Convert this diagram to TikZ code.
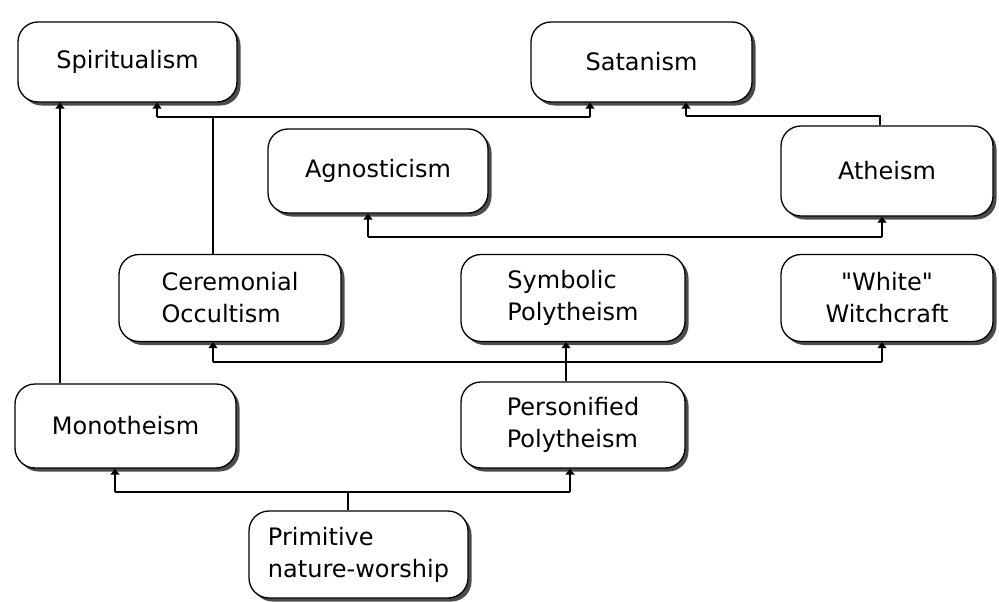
\documentclass[tikz,border=0pt]{standalone}
\usepackage{fontspec}
\newfontfamily\dvs{DejaVu Sans}
\usetikzlibrary{arrows.meta,shadows}
\begin{document}
\begin{tikzpicture}[x=1pt,y=-1pt,
  box/.style={draw=black, line width=1.3pt, fill=white, rounded corners=20pt,
    font=\dvs\fontsize{24}{32}\selectfont, inner sep=0pt,
    drop shadow={shadow xshift=3.5pt, shadow yshift=-3.5pt, fill=black!70, opacity=1}},
  conn/.style={line width=1.4pt},
  arr/.style={conn, -{Triangle[width=9pt,length=6pt]}}]
\useasboundingbox (0,0) rectangle (999,602);
\fill[white] (0,0) rectangle (999,602);
% boxes
\node[box, minimum width=219pt, minimum height=80pt] (spir) at (127.5,62) {Spiritualism};
\node[box, minimum width=221pt, minimum height=80pt] (satan) at (641.5,62) {Satanism};
\node[box, minimum width=220pt, minimum height=84pt] (agn) at (378,171) {Agnosticism};
\node[box, minimum width=212pt, minimum height=90pt] (ath) at (887,171) {Atheism};
\node[box, minimum width=222pt, minimum height=87pt, align=left] (cer) at (230,298) {Ceremonial\\Occultism};
\node[box, minimum width=224pt, minimum height=87pt, align=left] (sym) at (573,298) {Symbolic\\Polytheism};
\node[box, minimum width=212pt, minimum height=87pt, align=center] (white) at (887,298) {"White"\\Witchcraft};
\node[box, minimum width=221pt, minimum height=84pt] (mono) at (125.5,426) {Monotheism};
\node[box, minimum width=224pt, minimum height=86pt, align=left] (pers) at (573,425) {Personified\\Polytheism};
\node[box, minimum width=219pt, minimum height=87pt, align=left] (prim) at (358.5,554.5) {Primitive\\nature-worship};
% junction coordinates
\coordinate (jm) at (60,0);
\coordinate (ja) at (157,117);
\coordinate (jc) at (213,117);
\coordinate (jb) at (590,117);
\coordinate (jt) at (880,116);
\coordinate (js) at (686,116);
\coordinate (jg) at (368,237);
\coordinate (jh) at (882,237);
\coordinate (jk) at (213,362);
\coordinate (jw) at (882,362);
\coordinate (jp) at (566,0);
\coordinate (jn) at (115,492);
\coordinate (jq) at (348,492);
\coordinate (jr) at (570,492);
% connectors
\draw[arr] (mono.north -| jm) -- (spir.south -| jm);
\draw[conn] (cer.north -| jc) -- (jc);
\draw[conn] (ja) -- (jb);
\draw[arr] (ja) -- (spir.south -| ja);
\draw[arr] (jb) -- (satan.south -| jb);
\draw[conn] (ath.north -| jt) -- (jt) -- (js);
\draw[arr] (js) -- (satan.south -| js);
\draw[conn] (jg) -- (jh);
\draw[arr] (jg) -- (agn.south -| jg);
\draw[arr] (jh) -- (ath.south -| jh);
\draw[conn] (jk) -- (jw);
\draw[arr] (jk) -- (cer.south -| jk);
\draw[arr] (jw) -- (white.south -| jw);
\draw[arr] (pers.north -| jp) -- (sym.south -| jp);
\draw[conn] (jn) -- (jr);
\draw[conn] (prim.north -| jq) -- (jq);
\draw[arr] (jn) -- (mono.south -| jn);
\draw[arr] (jr) -- (pers.south -| jr);
\end{tikzpicture}
\end{document}
